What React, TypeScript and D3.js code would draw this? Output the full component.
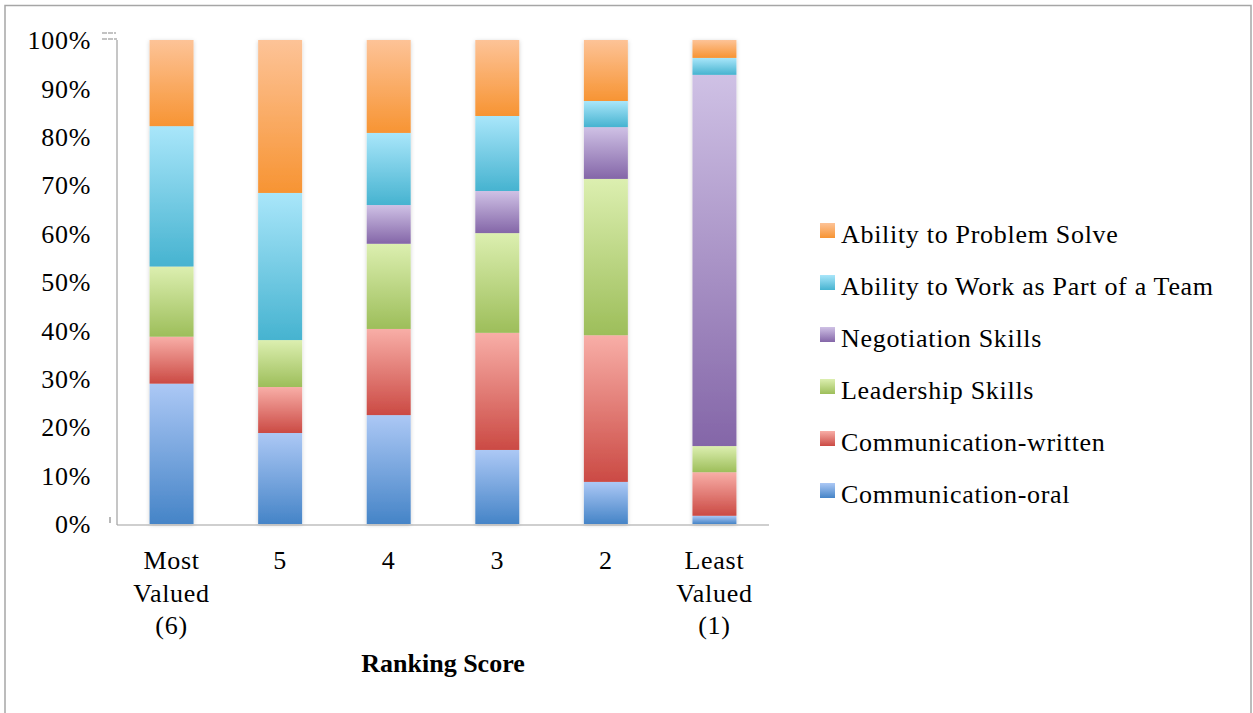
import * as d3 from "d3";
import { useEffect, useRef } from "react";

const categories = ["Most|Valued|(6)", "5", "4", "3", "2", "Least|Valued|(1)"];
const seriesNames = [
  "Communication-oral",
  "Communication-written",
  "Leadership Skills",
  "Negotiation Skills",
  "Ability to Work as Part of a Team",
  "Ability to Problem Solve",
];
const oral = [29, 18.8, 22.5, 15.3, 8.7, 1.7];
const written = [9.7, 9.5, 17.8, 24.2, 30.3, 9];
const leadership = [14.5, 9.7, 17.6, 20.6, 32.3, 5.4];
const negotiation = [0, 0, 8, 8.7, 10.7, 76.7];
const team = [29, 30.4, 14.9, 15.5, 5.4, 3.5];
const problem = [17.8, 31.6, 19.2, 15.7, 12.6, 3.7];
const yTicks = [0, 10, 20, 30, 40, 50, 60, 70, 80, 90, 100];

// light (top) / dark (bottom) per series
const gradTop = ["#acc8f5", "#f8aea7", "#dcefb0", "#cfc1e5", "#a9e6fa", "#fdc397"];
const gradBottom = ["#4584c7", "#cb4a44", "#9dbe5a", "#8466a8", "#46b3d0", "#f79433"];

const W = 1253;
const H = 713;
const FONT = "'Liberation Serif', 'DejaVu Serif', serif";
const FS = 26;
const LS = 0.7;

const App = () => {
  const svgRef = useRef(null);

  useEffect(() => {
    const svg = d3.select(svgRef.current);
    svg.selectAll("*").remove();

    const values = [oral, written, leadership, negotiation, team, problem];
    const rows = categories.map((c, i) => {
      const r: any = { cat: c };
      seriesNames.forEach((s, k) => (r[s] = values[k][i]));
      return r;
    });
    const stacked = d3.stack().keys(seriesNames).offset(d3.stackOffsetExpand)(rows);

    const left = 117, right = 769, top = 40, bottom = 524;
    const x = d3.scaleBand().domain(categories).range([left, right]).paddingInner(0.595).paddingOuter(0.3);
    const y = d3.scaleLinear().domain([0, 1]).range([bottom, top]);

    const defs = svg.append("defs");
    seriesNames.forEach((s, k) => {
      const g = defs.append("linearGradient").attr("id", "g" + k).attr("x1", 0).attr("y1", 0).attr("x2", 0).attr("y2", 1);
      g.append("stop").attr("offset", "0%").attr("stop-color", gradTop[k]);
      g.append("stop").attr("offset", "100%").attr("stop-color", gradBottom[k]);
    });
    const f = defs.append("filter").attr("id", "sh").attr("x", "-30%").attr("y", "-5%").attr("width", "160%").attr("height", "110%");
    f.append("feDropShadow").attr("dx", 0).attr("dy", 1).attr("stdDeviation", 2).attr("flood-color", "#000").attr("flood-opacity", 0.18);

    // outer frame
    svg.append("rect").attr("x", 5).attr("y", 5.5).attr("width", 1246).attr("height", 720)
      .attr("fill", "white").attr("stroke", "#a6a6a6").attr("stroke-width", 1.5);

    // bars
    const barsG = svg.append("g").attr("filter", "url(#sh)");
    stacked.forEach((layer, k) => {
      barsG.append("g").selectAll("rect").data(layer).enter().append("rect")
        .attr("x", (d: any) => x(d.data.cat))
        .attr("width", x.bandwidth())
        .attr("y", (d) => y(d[1]))
        .attr("height", (d) => Math.max(0, y(d[0]) - y(d[1])))
        .attr("fill", `url(#g${k})`);
    });

    // axes
    svg.append("line").attr("x1", left).attr("x2", left).attr("y1", top).attr("y2", bottom + 1)
      .attr("stroke", "#a0a0a0").attr("stroke-width", 1.2);
    svg.append("line").attr("x1", left).attr("x2", right).attr("y1", bottom + 1).attr("y2", bottom + 1)
      .attr("stroke", "#a0a0a0").attr("stroke-width", 1.2);
    svg.append("line").attr("x1", 102).attr("x2", 116).attr("y1", 33).attr("y2", 33).attr("stroke", "#b0b0b0").attr("stroke-width", 1.5).attr("stroke-dasharray", "5,1");
    svg.append("line").attr("x1", 102).attr("x2", 117).attr("y1", 39).attr("y2", 39).attr("stroke", "#b0b0b0").attr("stroke-width", 1.5).attr("stroke-dasharray", "5,1");
    svg.append("line").attr("x1", 110).attr("x2", 110).attr("y1", 517).attr("y2", 523).attr("stroke", "#a0a0a0").attr("stroke-width", 1.5);

    // y tick labels
    svg.append("g").selectAll("text").data(yTicks).enter().append("text")
      .attr("x", 91).attr("y", (d) => y(d / 100)).attr("dy", "0.35em")
      .attr("text-anchor", "end").attr("font-family", FONT).attr("font-size", FS).attr("letter-spacing", LS).attr("fill", "#000")
      .text((d) => d + "%");

    // x labels
    categories.forEach((c) => {
      const cx = x(c) + x.bandwidth() / 2;
      c.split("|").forEach((line, j) => {
        svg.append("text").attr("x", cx).attr("y", 569 + j * 32.5)
          .attr("text-anchor", "middle").attr("font-family", FONT).attr("font-size", FS).attr("letter-spacing", LS).attr("fill", "#000")
          .text(line);
      });
    });
    svg.append("text").attr("x", (left + right) / 2).attr("y", 672)
      .attr("text-anchor", "middle").attr("font-family", FONT).attr("font-size", FS).attr("font-weight", "bold")
      .text("Ranking Score");

    // legend (top to bottom reversed)
    const legendOrder = seriesNames.map((s, k) => k).reverse();
    legendOrder.forEach((k, i) => {
      const cy = 234 + i * 52;
      svg.append("rect").attr("x", 820).attr("y", cy - 11).attr("width", 15).attr("height", 15).attr("fill", `url(#g${k})`);
      svg.append("text").attr("x", 841).attr("y", cy).attr("dy", "0.35em")
        .attr("font-family", FONT).attr("font-size", FS).attr("letter-spacing", LS).attr("fill", "#000").text(seriesNames[k]);
    });
  }, []);

  return (
    <svg ref={svgRef} width={W} height={H} style={{ position: "absolute", left: 0, top: 0, background: "white" }}></svg>
  );
};

export default App;
